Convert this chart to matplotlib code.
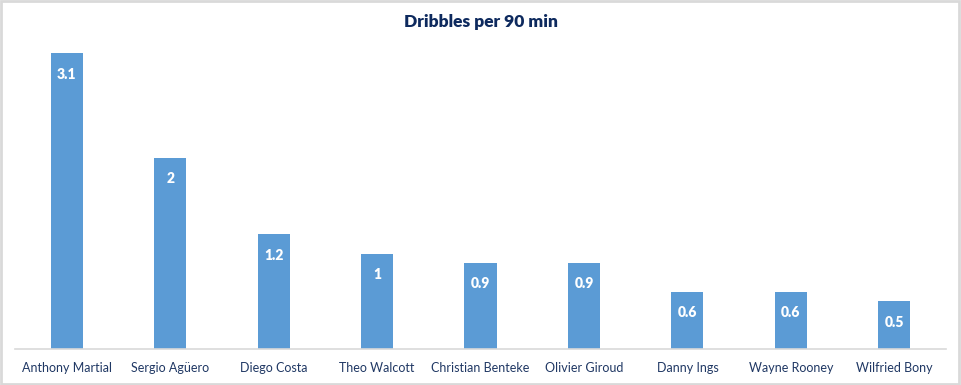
import matplotlib
matplotlib.use('Agg')
import matplotlib.pyplot as plt
from matplotlib.patches import Rectangle

players = ['Anthony Martial', 'Sergio Agüero', 'Diego Costa', 'Theo Walcott',
           'Christian Benteke', 'Olivier Giroud', 'Danny Ings', 'Wayne Rooney',
           'Wilfried Bony']
dribbles = [3.1, 2, 1.2, 1, 0.9, 0.9, 0.6, 0.6, 0.5]

plt.rcParams['font.family'] = ['Lato', 'DejaVu Sans']

W, H = 961, 385
fig = plt.figure(figsize=(W / 100, H / 100), dpi=100)
ax = fig.add_axes([15 / W, 36 / H, 931 / W, 334 / H])

x_pos = range(len(players))
bars = ax.bar(x_pos, dribbles, width=0.31, color='#5B9BD5', zorder=2)

for bar, v in zip(bars, dribbles):
    ax.annotate(f'{v:g}', (bar.get_x() + bar.get_width() / 2, bar.get_height()),
                xytext=(0, -15), textcoords='offset points', ha='center', va='center',
                color='white', fontsize=10, fontweight='heavy')

ax.set_xlim(-0.5, len(players) - 0.5)
ax.set_ylim(0, 3.5)
ax.set_xticks(list(x_pos))
ax.set_xticklabels(players, fontsize=9, color='#203864')
ax.tick_params(axis='x', length=0, pad=9)
ax.set_yticks([])
for s in ['top', 'right', 'left']:
    ax.spines[s].set_visible(False)
ax.spines['bottom'].set_color('#D9D9D9')
ax.spines['bottom'].set_linewidth(1.2)

fig.text(0.5, 1 - 22 / H, 'Dribbles per 90 min', ha='center', va='center',
         fontsize=12.5, fontweight='heavy', color='#0E2A5E')

fig.patches.append(Rectangle((0.001, 0.002), 0.997, 0.995, transform=fig.transFigure,
                             fill=False, edgecolor='#D9D9D9', linewidth=2))

fig.savefig('out.png', dpi=100)
